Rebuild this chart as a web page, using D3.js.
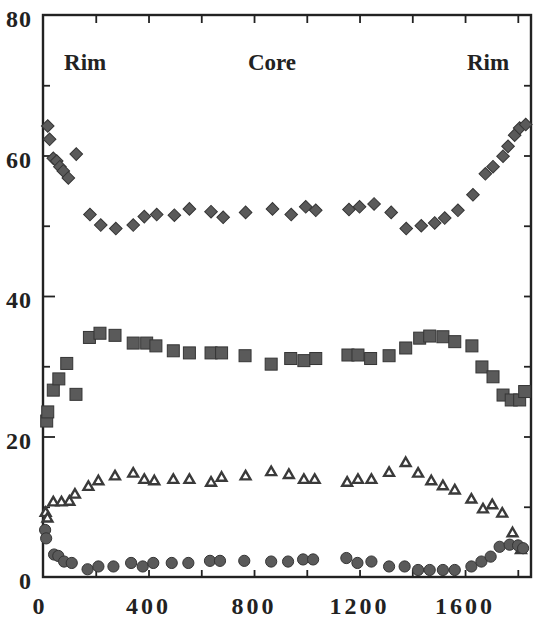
<!DOCTYPE html>
<html>
<head>
<meta charset="utf-8">
<script src="https://cdn.jsdelivr.net/npm/d3@7"></script>
<style>
  body { margin: 0; background: #fff; }
  svg { display: block; }
  .lbl { font-family: "Liberation Serif", "DejaVu Serif", serif; font-weight: bold; fill: #222; }
</style>
</head>
<body>
<svg id="chart"></svg>
<script>
const width = 533, height = 620;

// x positions (distance) and values for each series
const diamondX = [18,25,39,52,64,77,96,126,178,219,276,342,384,431,498,555,637,683,768,870,941,996,1034,1160,1200,1255,1320,1377,1434,1485,1523,1573,1630,1677,1706,1744,1763,1788,1807,1830];
const diamondY = [64.2,62.3,59.6,59.2,58.4,57.8,56.8,60.2,51.6,50.1,49.6,50.1,51.3,51.6,51.5,52.4,52.0,51.2,51.9,52.4,51.6,52.7,52.2,52.3,52.7,53.1,51.9,49.6,50.0,50.4,51.1,52.2,54.4,57.4,58.4,59.9,61.3,62.9,63.9,64.4];

const squareX = [14,18,39,60,90,125,176,216,273,342,393,428,494,555,637,677,766,865,939,989,1034,1156,1194,1242,1312,1375,1428,1466,1516,1561,1626,1664,1706,1744,1775,1807,1826];
const squareY = [22.2,23.5,26.6,28.2,30.4,26.0,34.1,34.7,34.4,33.3,33.3,32.9,32.2,31.9,31.9,31.9,31.5,30.3,31.1,30.8,31.1,31.6,31.6,31.1,31.5,32.6,34.0,34.3,34.2,33.5,32.9,29.9,28.5,25.9,25.2,25.2,26.4];

const triX = [10,17,39,70,100,121,172,210,273,342,384,422,494,555,637,677,768,865,932,989,1030,1153,1194,1245,1312,1375,1422,1472,1516,1561,1624,1668,1703,1741,1780,1812];
const triY = [9.1,8.3,10.6,10.6,10.7,11.7,12.8,13.6,14.3,14.7,13.8,13.6,13.8,13.8,13.4,14.1,14.3,14.9,14.5,13.8,13.8,13.4,13.8,13.8,14.8,16.2,14.7,13.6,12.9,12.3,11.0,9.6,10.2,9.0,6.2,3.8];

const circleX = [8,12,42,58,80,109,169,210,267,334,378,418,488,551,633,671,763,865,929,986,1024,1150,1192,1245,1312,1371,1422,1466,1516,1561,1624,1662,1697,1731,1769,1801,1820];
const circleY = [6.7,5.5,3.2,3.0,2.2,2.0,1.1,1.5,1.5,2.0,1.5,2.0,2.0,2.0,2.3,2.3,2.3,2.2,2.2,2.5,2.5,2.7,2.0,2.2,1.5,1.5,1.0,1.0,1.0,1.0,1.5,2.2,2.9,4.3,4.6,4.5,4.1];

const xLabelTicks = [0, 400, 800, 1200, 1600];
const yLabelTicks = [0, 20, 40, 60, 80];
const regionLabels = [
  { text: "Rim", x: 160 },
  { text: "Core", x: 868 },
  { text: "Rim", x: 1687 }
];

const svg = d3.select("#chart").attr("width", width).attr("height", height);

const x = d3.scaleLinear().domain([0, 1850]).range([43, 531]);
const y = d3.scaleLinear().domain([0, 80]).range([577, 15]);

const markFill = "#5a5a5a", markStroke = "#353535";

// frame
svg.append("rect")
  .attr("x", x(0)).attr("y", y(80))
  .attr("width", x(1850) - x(0)).attr("height", y(0) - y(80))
  .attr("fill", "none").attr("stroke", "#222").attr("stroke-width", 2.4);

// ticks (inward)
const xTicks = d3.range(200, 1850, 200);
const yMinor = d3.range(10, 80, 20);
const yMajor = [20, 40, 60];

function noText(g) { g.select(".domain").remove(); g.selectAll("text").remove(); g.selectAll("line").attr("stroke", "#222").attr("stroke-width", 1.8); }

svg.append("g").attr("transform", `translate(0,${y(0)})`)
  .call(d3.axisBottom(x).tickValues(xTicks).tickSizeInner(-7).tickSizeOuter(0)).call(noText);
svg.append("g").attr("transform", `translate(0,${y(80)})`)
  .call(d3.axisTop(x).tickValues(xTicks).tickSizeInner(-8).tickSizeOuter(0)).call(noText);
svg.append("g").attr("transform", `translate(${x(0)},0)`)
  .call(d3.axisLeft(y).tickValues(yMinor).tickSizeInner(-7).tickSizeOuter(0)).call(noText);
svg.append("g").attr("transform", `translate(${x(0)},0)`)
  .call(d3.axisLeft(y).tickValues(yMajor).tickSizeInner(-12).tickSizeOuter(0)).call(noText);
svg.append("g").attr("transform", `translate(${x(1850)},0)`)
  .call(d3.axisRight(y).tickValues(d3.range(10, 80, 10)).tickSizeInner(-7).tickSizeOuter(0)).call(noText);

// tick labels
svg.append("g").selectAll("text")
  .data(xLabelTicks).enter().append("text")
  .attr("class", "lbl")
  .attr("x", d => x(d) + (d === 0 ? -3 : 0))
  .attr("y", 614)
  .attr("text-anchor", "middle")
  .style("font-size", "24px")
  .style("letter-spacing", "3px")
  .text(d => d);

svg.append("g").selectAll("text")
  .data(yLabelTicks).enter().append("text")
  .attr("class", "lbl")
  .attr("x", 32)
  .attr("y", d => y(d) + 12)
  .attr("text-anchor", "end")
  .style("font-size", "24px")
  .style("letter-spacing", "1px")
  .text(d => d);

// region labels
svg.append("g").selectAll("text")
  .data(regionLabels).enter().append("text")
  .attr("class", "lbl")
  .attr("x", d => x(d.x))
  .attr("y", 70)
  .attr("text-anchor", "middle")
  .style("font-size", "23px")
  .text(d => d.text);

// series
const zip = (xs, ys) => xs.map((v, i) => ({ x: v, y: ys[i] }));

svg.append("g").selectAll("path")
  .data(zip(diamondX, diamondY)).enter().append("path")
  .attr("d", d3.symbol(d3.symbolSquare, 80))
  .attr("transform", d => `translate(${x(d.x)},${y(d.y)}) rotate(45)`)
  .attr("fill", markFill).attr("stroke", markStroke).attr("stroke-width", 1);

svg.append("g").selectAll("rect")
  .data(zip(squareX, squareY)).enter().append("rect")
  .attr("x", d => x(d.x) - 6).attr("y", d => y(d.y) - 6)
  .attr("width", 12).attr("height", 12)
  .attr("fill", markFill).attr("stroke", markStroke).attr("stroke-width", 1);

svg.append("g").selectAll("path")
  .data(zip(triX, triY)).enter().append("path")
  .attr("d", d3.symbol(d3.symbolTriangle, 42))
  .attr("transform", d => `translate(${x(d.x)},${y(d.y)})`)
  .attr("fill", "#fff").attr("stroke", "#3a3a3a").attr("stroke-width", 2.4);

svg.append("g").selectAll("circle")
  .data(zip(circleX, circleY)).enter().append("circle")
  .attr("cx", d => x(d.x)).attr("cy", d => y(d.y))
  .attr("r", 5.6)
  .attr("fill", markFill).attr("stroke", markStroke).attr("stroke-width", 1);
</script>
</body>
</html>
